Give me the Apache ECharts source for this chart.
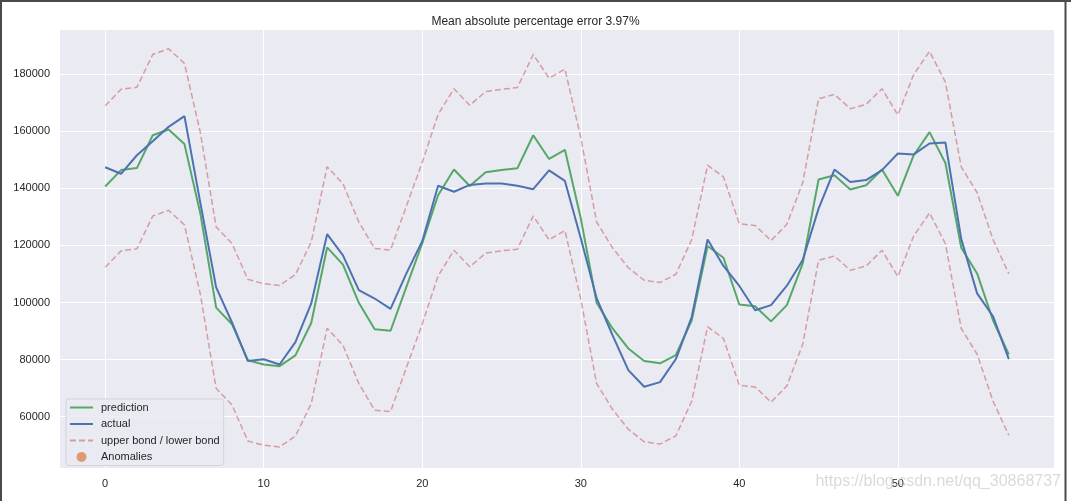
<!DOCTYPE html>
<html>
<head>
<meta charset="utf-8">
<script src="https://cdn.jsdelivr.net/npm/echarts@6/dist/echarts.min.js"></script>
<style>html,body{margin:0;padding:0;background:#fff}#c{width:1071px;height:501px}</style>
</head>
<body>
<div id="c"></div>
<script>
const titleText = 'Mean absolute percentage error 3.97%';
const xTicks = [0, 10, 20, 30, 40, 50];
const yTicks = [60000, 80000, 100000, 120000, 140000, 160000, 180000];
const prediction = [140650,146400,147100,158600,160600,155500,131300,98200,92400,79800,
  78300,77700,81500,92900,119300,113300,99900,90600,90100,105500,
  120800,137600,146600,140800,145600,146400,147000,158600,150300,153500,
  129500,99900,90900,83900,79500,78700,81600,93800,119800,115700,
  99300,98700,93400,99100,113700,143100,144600,139600,141100,146600,
  137400,151600,159700,148900,119200,110200,93800,81800];
const actual = [147400,145100,151600,156500,161550,165300,135000,105300,93000,79500,
  80100,78300,86100,99700,123950,116500,104350,101400,97800,110200,
  121500,140900,138800,141200,141700,141700,140900,139700,146300,142600,
  122500,101500,88600,76300,70500,72100,80200,95000,122100,112800,
  105800,97300,99100,105900,114900,132900,146600,142200,142900,146400,
  152200,151900,155700,156100,122200,103200,95200,80200];
const upperBond = [168950,174700,175400,186900,188900,183800,159600,126500,120700,108100,
  106600,106000,109800,121200,147600,141600,128200,118900,118400,133800,
  149100,165900,174900,169100,173900,174700,175300,186900,178600,181800,
  157800,128200,119200,112200,107800,107000,109900,122100,148100,144000,
  127600,127000,121700,127400,142000,171400,172900,167900,169400,174900,
  165700,179900,188000,177200,147500,138500,122100,110100];
const lowerBond = [112350,118100,118800,130300,132300,127200,103000,69900,64100,51500,
  50000,49400,53200,64600,91000,85000,71600,62300,61800,77200,
  92500,109300,118300,112500,117300,118100,118700,130300,122000,125200,
  101200,71600,62600,55600,51200,50400,53300,65500,91500,87400,
  71000,70400,65100,70800,85400,114800,116300,111300,112800,118300,
  109100,123300,131400,120600,90900,81900,65500,53500];
const anomalies = [];

const pairs = arr => arr.map((v, i) => [i, v]);
const FONT = '"Liberation Sans", Arial, sans-serif';
const chart = echarts.init(document.getElementById('c'), null, {renderer: 'canvas'});
chart.setOption({
  animation: false,
  backgroundColor: '#ffffff',
  title: {
    text: titleText, left: 'center', top: 11,
    textStyle: {fontFamily: FONT, fontSize: 12, fontWeight: 'normal', color: '#262626'}
  },
  grid: {left: 60, right: 17, top: 30, bottom: 33, show: true, backgroundColor: '#EAEAF2', borderWidth: 0, containLabel: false},
  xAxis: {
    type: 'value', min: -2.85, max: 59.85,
    axisLine: {show: false}, axisTick: {show: false, customValues: xTicks},
    axisLabel: {customValues: xTicks, margin: 10, fontFamily: FONT, fontSize: 11, color: '#262626',
      formatter: v => String(v)},
    splitLine: {show: true, lineStyle: {color: '#ffffff', width: 1}}
  },
  yAxis: {
    type: 'value', min: 42025, max: 195475,
    axisLine: {show: false}, axisTick: {show: false, customValues: yTicks},
    axisLabel: {customValues: yTicks, margin: 10, fontFamily: FONT, fontSize: 11, color: '#262626',
      formatter: v => String(Math.round(v))},
    splitLine: {show: true, lineStyle: {color: '#ffffff', width: 1}}
  },
  legend: {
    orient: 'vertical', left: 66, top: 399,
    padding: [3, 4, 3, 3], itemWidth: 23, itemHeight: 10, itemGap: 5.5,
    backgroundColor: 'rgba(234,234,242,0.85)', borderColor: '#d3d3da', borderWidth: 1, borderRadius: 3,
    textStyle: {fontFamily: FONT, fontSize: 11, color: '#262626', padding: [0, 0, 0, 3]},
    data: [
      {name: 'prediction', itemStyle: {opacity: 0}},
      {name: 'actual', itemStyle: {opacity: 0}},
      {name: 'upper bond / lower bond', itemStyle: {opacity: 0}},
      {name: 'Anomalies', icon: 'circle'}
    ]
  },
  graphic: [
    {type: 'line', shape: {x1: 0, y1: 1, x2: 1071, y2: 1}, style: {stroke: '#4a4a4a', lineWidth: 2}, silent: true},
    {type: 'line', shape: {x1: 1, y1: 0, x2: 1, y2: 501}, style: {stroke: '#4a4a4a', lineWidth: 2}, silent: true},
    {type: 'line', shape: {x1: 1065.5, y1: 0, x2: 1065.5, y2: 501}, style: {stroke: '#4a4a4a', lineWidth: 2}, silent: true},
    {type: 'text', right: 10, top: 474, z: 100,
     style: {text: 'https://blog.csdn.net/qq_30868737', fontFamily: FONT, fontSize: 16, fill: 'rgba(205,205,205,0.75)'}}
  ],
  series: [
    {name: 'prediction', type: 'line', data: pairs(prediction), symbol: 'none', z: 2,
     lineStyle: {color: '#55A868', width: 2}, itemStyle: {color: '#55A868'}},
    {name: 'actual', type: 'line', data: pairs(actual), symbol: 'none', z: 3,
     lineStyle: {color: '#4C72B0', width: 2}, itemStyle: {color: '#4C72B0'}},
    {name: 'upper bond / lower bond', type: 'line', data: pairs(upperBond), symbol: 'none', z: 4,
     lineStyle: {color: '#C44E52', width: 1.5, opacity: 0.5, type: [6, 3]}, itemStyle: {color: '#C44E52', opacity: 0.5}},
    {name: 'lower bond', type: 'line', data: pairs(lowerBond), symbol: 'none', z: 4,
     lineStyle: {color: '#C44E52', width: 1.5, opacity: 0.5, type: [6, 3]}, itemStyle: {color: '#C44E52'}},
    {name: 'Anomalies', type: 'scatter', data: pairs(anomalies), symbolSize: 10, z: 5,
     itemStyle: {color: '#DD8452'}}
  ]
});
</script>
</body>
</html>
